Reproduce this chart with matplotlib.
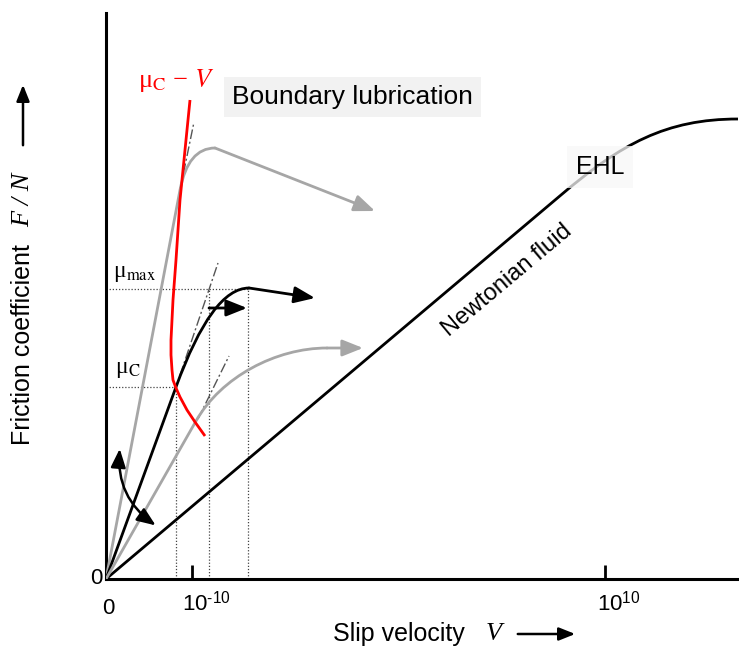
import matplotlib
matplotlib.use("Agg")
import matplotlib.pyplot as plt
from matplotlib.path import Path
from matplotlib.patches import PathPatch, FancyArrowPatch
from matplotlib.transforms import ScaledTranslation

plt.rcParams['mathtext.fontset'] = 'custom'
plt.rcParams['mathtext.rm'] = 'Liberation Sans'
plt.rcParams['mathtext.it'] = 'Liberation Serif:italic'
plt.rcParams['font.family'] = ['Liberation Sans', 'DejaVu Sans']

# ---------------- data (schematic units) ----------------
# Newtonian fluid -> EHL curve (line then Bezier bend)
newt_V = [0, 455, 515, 560, 632]
newt_F = [0, 384, 435, 460, 460]
# Upper gray curve (line, quadratic bend, then arrow)
gray1_V = [0, 74, 82, 109]
gray1_F = [0, 389, 431, 431]
gray1_arrow_V = [109, 269]
gray1_arrow_F = [431, 368]
gray1_tan_V = [74, 88]
gray1_tan_F = [389, 457]
# Middle black curve
black_V = [0, 70, 106, 143]
black_F = [0, 192, 291, 291]
black_arrow_V = [143, 209]
black_arrow_F = [291, 281]
black_tan_V = [74, 112]
black_tan_F = [204, 316]
shift_arrow_V = [103, 141]
shift_arrow_F = [271, 271]
# Lower gray curve
gray2_V = [0, 90, 115, 170, 221]
gray2_F = [0, 158, 202, 231, 231]
gray2_arrow_V = [221, 257]
gray2_arrow_F = [231, 231]
gray2_tan_V = [92, 123]
gray2_tan_F = [160, 223]
# mu_C - V curve (red)
red_V = [84, 80, 74, 70, 67, 65, 65, 66, 67, 70, 74, 81, 89, 99]
red_F = [479, 439, 379, 319, 279, 239, 224, 209, 199, 191, 182, 169, 157, 143]
# reference levels
mu_max = 290
mu_c = 192
V_c = 70
V_max_tan = 103
V_peak = 142
# curved double arrow
dbl_start = (14, 133)
dbl_end = (52, 52)
# ticks
tick_pos = [86, 499]
tick_labels = ['10$^{\\text{-}10}$', '10$^{10}$']

GRAY = '#a6a6a6'
RED = '#ff0000'

W, H = 739, 648
fig = plt.figure(figsize=(W / 100, H / 100), dpi=100)
ax = fig.add_axes([106 / W, 69 / H, 632 / W, 566 / H])
ax.set_xlim(0, 632)
ax.set_ylim(0, 566)

for s in ['top', 'right']:
    ax.spines[s].set_visible(False)
for s in ['left', 'bottom']:
    ax.spines[s].set_linewidth(2.2)
ax.set_yticks([])
ax.set_xticks(tick_pos)
ax.set_xticklabels(tick_labels)
ax.tick_params(axis='x', direction='in', length=10, width=2, labelsize=16, pad=9)
for lab in ax.get_xticklabels():
    lab.set_transform(lab.get_transform() + ScaledTranslation(0.14, 0, fig.dpi_scale_trans))

def bez(V, F, codes, color, lw=2.0, z=3):
    p = Path(list(zip(V, F)), codes)
    ax.add_patch(PathPatch(p, fill=False, edgecolor=color, lw=lw, zorder=z,
                           capstyle='round', joinstyle='round'))

def arrow(V, F, color, lw=2.0, z=3):
    ax.annotate('', xy=(V[1], F[1]), xytext=(V[0], F[0]),
                arrowprops=dict(arrowstyle='-|>,head_length=0.7,head_width=0.28',
                                color=color, lw=lw, mutation_scale=18,
                                shrinkA=0, shrinkB=0), zorder=z)

M, L, C3, C4 = Path.MOVETO, Path.LINETO, Path.CURVE3, Path.CURVE4

# dotted guide lines
dot = dict(color='#444444', lw=0.9, ls=(0, (1, 1.5)), zorder=1)
ax.plot([0, V_peak], [mu_max, mu_max], **dot)
ax.plot([0, V_c], [mu_c, mu_c], **dot)
ax.plot([V_c, V_c], [0, mu_c], **dot)
ax.plot([V_max_tan, V_max_tan], [0, mu_max], **dot)
ax.plot([V_peak, V_peak], [0, mu_max], **dot)

# dash-dot tangents
dd = dict(color='#555555', lw=1.0, ls=(0, (7, 2, 1.5, 2)), zorder=2)
ax.plot(gray1_tan_V, gray1_tan_F, **dd)
ax.plot(black_tan_V, black_tan_F, **dd)
ax.plot(gray2_tan_V, gray2_tan_F, **dd)

# curves
bez(newt_V, newt_F, [M, L, C4, C4, C4], 'black')
bez(gray1_V, gray1_F, [M, L, C3, C3], GRAY)
arrow(gray1_arrow_V, gray1_arrow_F, GRAY)
bez(black_V, black_F, [M, L, C3, C3], 'black')
arrow(black_arrow_V, black_arrow_F, 'black')
arrow(shift_arrow_V, shift_arrow_F, 'black')
bez(gray2_V, gray2_F, [M, L, C4, C4, C4], GRAY)
arrow(gray2_arrow_V, gray2_arrow_F, GRAY)
ax.plot(red_V, red_F, color=RED, lw=2.0, zorder=4, solid_capstyle='butt')

# curved double arrow
ax.add_patch(FancyArrowPatch(dbl_start, dbl_end,
                             arrowstyle='<|-|>,head_length=0.7,head_width=0.28',
                             connectionstyle='arc3,rad=0.3', mutation_scale=16,
                             lw=1.8, color='black', zorder=3))

# texts
ax.text(126, 482, 'Boundary lubrication', fontsize=19, ha='left', va='center',
        bbox=dict(boxstyle='square,pad=0.3', fc='#f2f2f2', ec='none'), zorder=5)
ax.text(494, 412, 'EHL', fontsize=18, ha='center', va='center',
        bbox=dict(boxstyle='square,pad=0.35', fc=(0.97, 0.97, 0.97), ec='none', alpha=0.75),
        zorder=5)
ax.text(401, 299, 'Newtonian fluid', fontsize=17, ha='center', va='center',
        rotation=40, rotation_mode='anchor')
ax.text(32, 499, 'μ$_\\mathrm{C}$ − $V$', fontsize=19, color=RED, ha='left', va='center',
        family='Liberation Serif', math_fontfamily='stix')
ax.text(7, 305, 'μ$_\\mathrm{max}$', fontsize=17, ha='left', va='center',
        family='Liberation Serif', math_fontfamily='stix')
ax.text(9, 209, 'μ$_\\mathrm{C}$', fontsize=17, ha='left', va='center',
        family='Liberation Serif', math_fontfamily='stix')
ax.text(2, -30, '0', fontsize=16, ha='center', va='center', clip_on=False)
ax.text(-10, 1, '0', fontsize=16, ha='center', va='center', clip_on=False)

# axis labels
def fx(px):
    return px / W
def fy(py):
    return 1 - py / H

fig.text(fx(333), fy(634), 'Slip velocity', fontsize=18, ha='left', va='center')
fig.text(fx(486), fy(634), 'V', fontsize=19, ha='left', va='center',
         family='Liberation Serif', style='italic')
fig.add_artist(FancyArrowPatch((fx(515), fy(634)), (fx(578), fy(634)),
                               transform=fig.transFigure,
                               arrowstyle='-|>,head_length=0.7,head_width=0.28',
                               mutation_scale=14, lw=1.8, color='black'))

fig.text(fx(23), fy(445), 'Friction coefficient', fontsize=18, rotation=90,
         ha='center', va='bottom')
fig.text(fx(23), fy(173), 'F / N', fontsize=19, rotation=90, ha='center', va='top',
         family='Liberation Serif', style='italic')
fig.add_artist(FancyArrowPatch((fx(23), fy(148)), (fx(23), fy(82)),
                               transform=fig.transFigure,
                               arrowstyle='-|>,head_length=0.7,head_width=0.28',
                               mutation_scale=14, lw=1.8, color='black'))

fig.savefig('out.png', dpi=100)
